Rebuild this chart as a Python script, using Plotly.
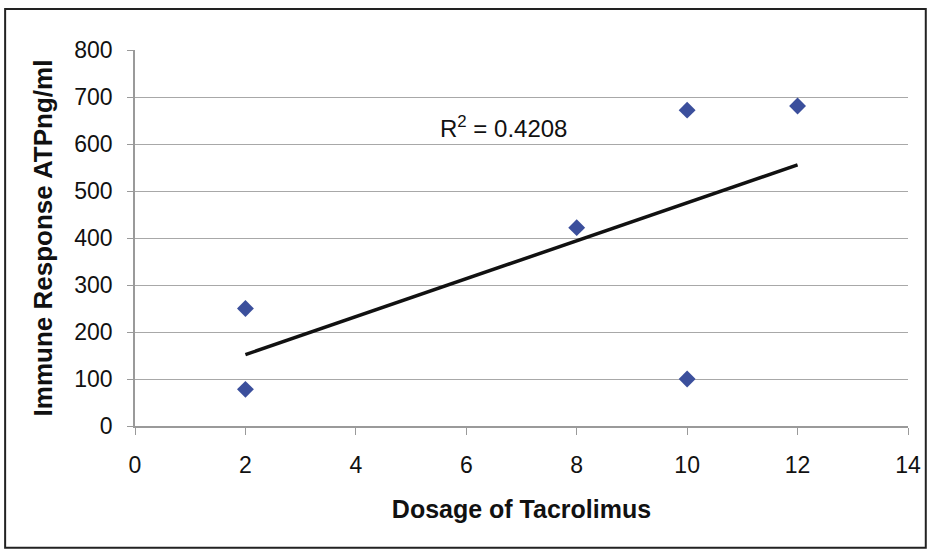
import numpy as np
import plotly.graph_objects as go

# Tacrolimus dosage vs. immune response measurements
dosage = [2, 2, 8, 10, 10, 12]
atp_response = [250, 78, 422, 672, 100, 681]
r_squared_label = "R<sup>2</sup> = 0.4208"
x_ticks = [0, 2, 4, 6, 8, 10, 12, 14]
y_ticks = [0, 100, 200, 300, 400, 500, 600, 700, 800]

# least-squares linear trendline over the observed dose range
slope, intercept = np.polyfit(dosage, atp_response, 1)
trend_x = [min(dosage), max(dosage)]
trend_y = [slope * v + intercept for v in trend_x]

font_family = "Liberation Sans, Arial, sans-serif"

fig = go.Figure()
fig.add_trace(go.Scatter(
    x=dosage, y=atp_response, mode="markers",
    marker=dict(symbol="diamond", size=13, color="#3b4f9c",
                line=dict(width=0)),
    showlegend=False,
))
fig.add_trace(go.Scatter(
    x=trend_x, y=trend_y, mode="lines",
    line=dict(color="#111111", width=3.5),
    showlegend=False,
))

fig.add_annotation(
    x=6.67, y=636, xref="x", yref="y", text=r_squared_label,
    showarrow=False, font=dict(family=font_family, size=24, color="#111111"),
)

# chart area frame
fig.add_shape(type="rect", xref="paper", yref="paper",
              x0=-0.168, x1=1.023, y0=-0.324, y1=1.109,
              line=dict(color="#222222", width=2))

fig.update_layout(
    width=932, height=558,
    margin=dict(l=135, r=24, t=50, b=132),
    paper_bgcolor="white", plot_bgcolor="white",
    font=dict(family=font_family, size=23, color="#111111"),
    xaxis=dict(
        range=[0, 14], tickvals=x_ticks, showgrid=False,
        showline=True, linecolor="#9a9a9a", linewidth=1.5,
        ticks="outside", ticklen=7, tickcolor="#9a9a9a",
        ticklabelstandoff=11,
        zeroline=False,
        title=dict(text="<b>Dosage of Tacrolimus</b>", standoff=23,
                   font=dict(size=25)),
    ),
    yaxis=dict(
        range=[0, 800], tickvals=y_ticks, showgrid=True,
        gridcolor="#a8a8a8", gridwidth=1.2,
        showline=True, linecolor="#9a9a9a", linewidth=1.5,
        ticks="outside", ticklen=6, tickcolor="#9a9a9a",
        ticklabelstandoff=10,
        zeroline=False,
        title=dict(text="<b>Immune Response ATPng/ml</b>", standoff=14,
                   font=dict(size=26)),
    ),
)

fig.write_html("out.html")
